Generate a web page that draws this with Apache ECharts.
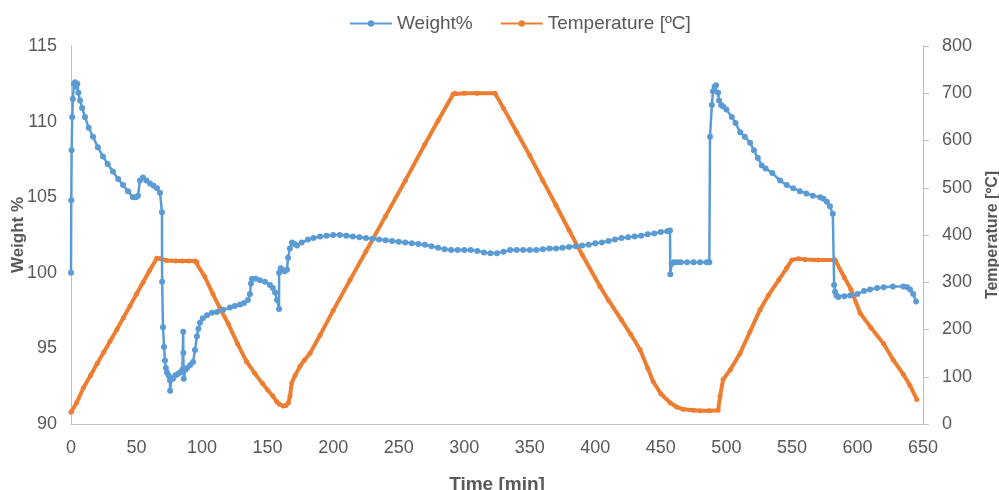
<!DOCTYPE html>
<html>
<head>
<meta charset="utf-8">
<script src="https://cdn.jsdelivr.net/npm/echarts@6/dist/echarts.min.js"></script>
<style>
html,body{margin:0;padding:0;background:#fff;}
#c{width:999px;height:490px;}
</style>
</head>
<body>
<div id="c"></div>
<script>
// Series names
const seriesNames = ["Weight%", "Temperature [ºC]"];
// Axis ticks
const xTicks = {min: 0, max: 650, interval: 50};
const yLeftTicks = {min: 90, max: 115, interval: 5};
const yRightTicks = {min: 0, max: 800, interval: 100};

// Weight% : [time min, weight %]
const weightData = [
[0,100.0],[0.2,104.8],[0.5,108.1],[0.9,110.3],[1.4,111.5],[2.2,112.5],[3.1,112.6],[4,112.3],[4.8,112.5],[5.6,111.9],
[6.9,111.4],[8.5,110.9],[10.7,110.3],[13.5,109.6],[16.8,109.0],[20.5,108.3],[24.4,107.7],[28,107.2],[32,106.7],[36,106.2],
[39.7,105.8],[43.5,105.4],[47.3,105.0],[49.5,105.0],[51.1,105.1],[52.6,106.1],[54.9,106.3],[57.5,106.1],[60.3,105.9],[63,105.75],
[65.6,105.6],[67.9,105.3],[69.4,104.0],[69.5,99.4],[70.2,96.4],[71,95.1],[71.7,94.2],[72.4,93.7],[73.2,93.4],[74.5,93.2],
[75.5,92.9],[75.6,92.2],[76.5,93.0],[77.8,93.0],[79.5,93.2],[81.5,93.3],[83.2,93.4],[85,93.6],[85.6,96.1],[85.7,94.7],
[86,93.0],[87.5,93.6],[88.5,93.7],[91,93.9],[93.1,94.1],[94.6,94.9],[96.1,95.8],[97.2,96.3],[98.4,96.7],[100.5,97.0],
[103.8,97.2],[107.5,97.35],[111.4,97.4],[116,97.55],[121.3,97.7],[125,97.8],[129,97.9],[132,98.0],[135,98.2],[136.5,98.6],
[137.3,99.3],[138.1,99.6],[141,99.6],[144.2,99.5],[148,99.4],[151.8,99.2],[154,99.0],[155.7,98.7],[157.2,98.2],[158.7,97.6],
[158.8,100.0],[160,100.3],[161,100.2],[163,100.1],[164.8,100.2],[165.6,101.0],[167,101.6],[168.6,102.0],[170.5,101.9],[172.4,101.8],
[176,102.0],[180.8,102.2],[185,102.3],[190,102.4],[195,102.45],[200,102.5],[205,102.5],[210,102.45],[215,102.4],[220,102.35],
[225,102.3],[230,102.25],[235,102.2],[240,102.15],[245,102.1],[250,102.05],[255,102.0],[260,101.95],[265,101.9],[270,101.85],
[275,101.75],[280,101.65],[285,101.55],[290,101.5],[295,101.5],[300,101.5],[305,101.5],[310,101.45],[315,101.35],[320,101.3],
[325,101.3],[330,101.4],[335,101.5],[340,101.5],[345,101.5],[350,101.5],[355,101.5],[360,101.55],[365,101.6],[370,101.6],
[375,101.65],[380,101.7],[385,101.75],[390,101.8],[395,101.85],[400,101.95],[405,102.0],[410,102.1],[415,102.2],[420,102.3],
[425,102.35],[430,102.4],[435,102.45],[440,102.55],[445,102.6],[450,102.7],[455,102.75],[457,102.8],[457.2,99.9],[458.3,100.6],
[460,100.7],[462.2,100.7],[465,100.7],[470,100.7],[475,100.7],[480,100.7],[485,100.7],[487,100.7],[487.5,109.0],[488.9,111.1],
[489.8,112.0],[491,112.3],[492.1,112.4],[493.7,111.9],[494.4,111.4],[496,111.1],[497.5,111.0],[500,110.8],[504.1,110.3],[507,109.9],
[510.5,109.3],[514,109.0],[518.1,108.6],[521,108.1],[524,107.6],[527,107.1],[530,106.9],[535,106.6],[541,106.1],[546,105.8],
[551,105.6],[556,105.4],[561,105.25],[566,105.1],[571.5,105.0],[574,104.9],[576.6,104.7],[579,104.4],[581.2,103.9],[582.2,99.2],
[582.9,98.75],[584,98.5],[585.4,98.4],[590,98.45],[594.4,98.5],[600,98.6],[605,98.8],[609.6,98.9],[615,99.0],[620,99.05],
[627,99.1],[635,99.1],[638,99.05],[640.2,98.9],[642.5,98.6],[644.7,98.1]
];

// Temperature [ºC] : [time min, temperature]
const tempData = [
[0,25],[0.5,27],[4.3,45],[9.4,76],[15,103],[20,128],[25,152],[29.8,175],[35,200],[40,225],
[45,250],[50,275],[55,300],[60,325],[65.4,351],[68,350],[73,346],[80,345],[85,345],[90,345],
[94.6,345],[96,343],[102,312],[108.3,275],[113.7,245],[120,212],[127,170],[134,132],[140,108],[146,86],
[150,72],[154,59],[157,47],[159,42],[161.8,38],[164,39],[165.8,45],[167.1,59],[168.4,87],[171,103],
[174.7,122],[178,135],[182.4,150],[190,188],[200,240],[212.9,305],[225,365],[240,440],[255,515],[270,592],
[280,642],[291.5,698],[293,700],[300,700],[310,700],[323.5,700],[330,668],[340,618],[350,568],[360,515],
[370,463],[380,410],[390,358],[403.6,291],[410,262],[420,220],[427,190],[434.2,157],[440,118],[444.1,90],
[450,64],[457.1,45],[462,36],[467,31],[475,29],[480,28],[487,28],[493.7,29],[495.2,59],[497.5,94],
[503,115],[510.5,150],[518,195],[525.7,242],[532,272],[540,305],[546,330],[549.9,347],[555,350],[560,348],
[570,347],[583,347],[590,310],[595,285],[602,235],[610,205],[620,170],[627.2,136],[635,105],[640,82],
[645.3,52]
];

const txt = '#595959';
const axisLineColor = '#BFBFBF';
const font = "'Liberation Sans', Arial, sans-serif";

const chart = echarts.init(document.getElementById('c'), null, {renderer: 'canvas'});
chart.setOption({
  backgroundColor: '#ffffff',
  animation: false,
  textStyle: {fontFamily: font},
  legend: {
    top: 9,
    left: 344,
    itemWidth: 42,
    itemHeight: 8,
    itemGap: 27,
    textStyle: {color: txt, fontSize: 19, fontFamily: font},
    data: seriesNames
  },
  grid: {left: 71, right: 76, top: 46, bottom: 66, containLabel: false, outerBoundsMode: 'none'},
  xAxis: {
    type: 'value',
    min: xTicks.min, max: xTicks.max, interval: xTicks.interval,
    name: 'Time [min]',
    nameLocation: 'middle',
    nameGap: 51,
    nameMoveOverlap: false,
    nameTextStyle: {color: txt, fontSize: 19, fontWeight: 'bold', fontFamily: font},
    axisLine: {show: true, lineStyle: {color: axisLineColor, width: 1}},
    axisTick: {show: false},
    splitLine: {show: false},
    axisLabel: {color: txt, fontSize: 18, margin: 15, fontFamily: font}
  },
  yAxis: [
    {
      type: 'value',
      position: 'left',
      min: yLeftTicks.min, max: yLeftTicks.max, interval: yLeftTicks.interval,
      name: 'Weight %',
      nameLocation: 'middle',
      nameRotate: 90,
      nameGap: 44,
      nameMoveOverlap: false,
      nameTextStyle: {color: txt, fontSize: 17, fontWeight: 'bold', fontFamily: font},
      axisLine: {show: true, lineStyle: {color: axisLineColor, width: 1}},
      axisTick: {show: false},
      splitLine: {show: false},
      axisLabel: {color: txt, fontSize: 18, margin: 14, fontFamily: font}
    },
    {
      type: 'value',
      position: 'right',
      min: yRightTicks.min, max: yRightTicks.max, interval: yRightTicks.interval,
      name: 'Temperature [ºC]',
      nameLocation: 'middle',
      nameRotate: 90,
      nameGap: 62,
      nameMoveOverlap: false,
      nameTextStyle: {color: txt, fontSize: 16, fontWeight: 'bold', fontFamily: font},
      axisLine: {show: true, lineStyle: {color: axisLineColor, width: 1}},
      axisTick: {show: true, inside: false, length: 6, lineStyle: {color: axisLineColor}},
      splitLine: {show: false},
      axisLabel: {color: txt, fontSize: 18, margin: 19, fontFamily: font}
    }
  ],
  series: [
    {
      name: seriesNames[0],
      type: 'line',
      yAxisIndex: 0,
      data: weightData,
      showSymbol: true,
      symbol: 'circle',
      symbolSize: 6,
      itemStyle: {color: '#5B9BD5'},
      lineStyle: {color: '#5B9BD5', width: 2.5},
      z: 3
    },
    {
      name: seriesNames[1],
      type: 'line',
      yAxisIndex: 1,
      data: tempData,
      showSymbol: true,
      symbol: 'circle',
      symbolSize: 5,
      itemStyle: {color: '#ED7D31'},
      lineStyle: {color: '#ED7D31', width: 4},
      z: 2
    }
  ]
});
</script>
</body>
</html>
